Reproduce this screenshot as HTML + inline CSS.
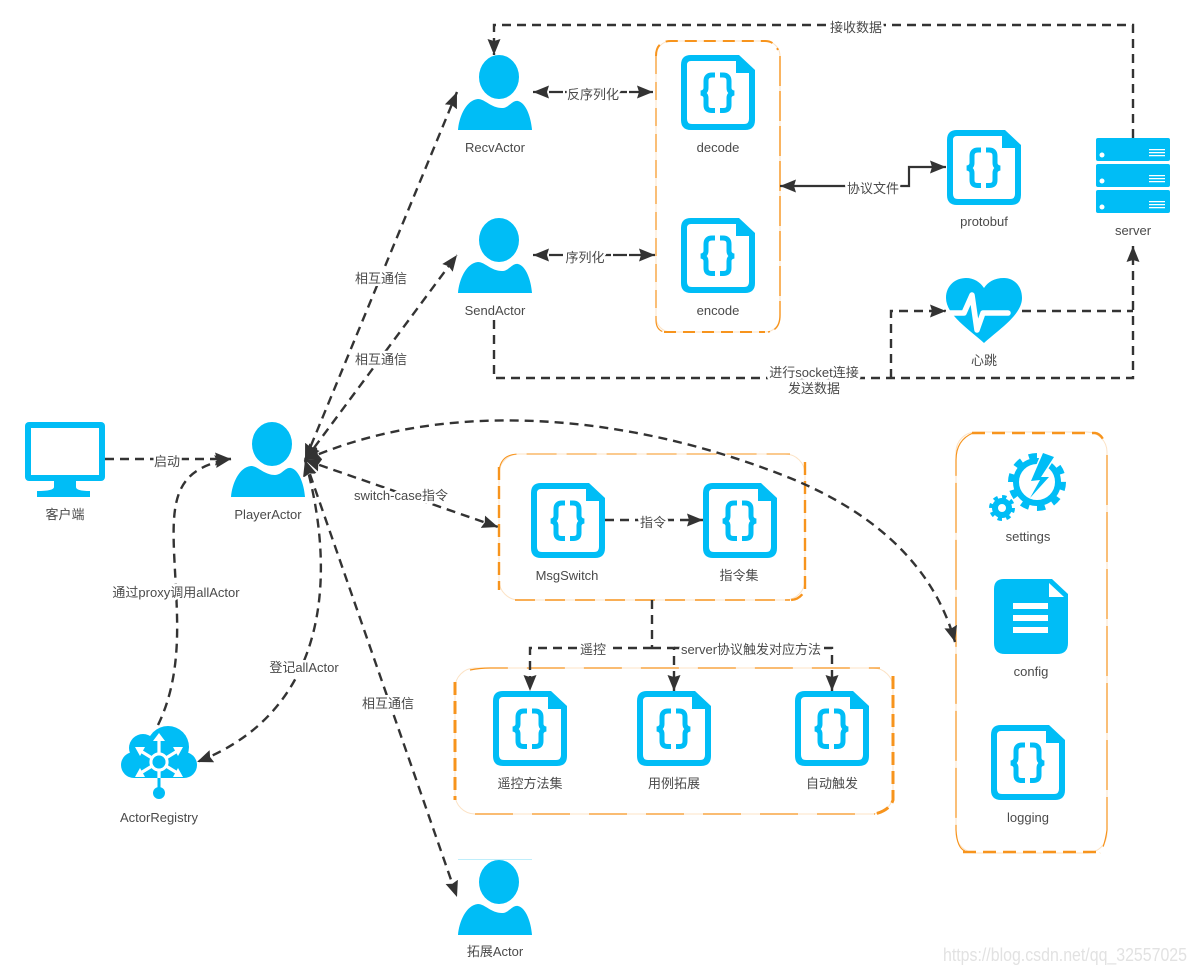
<!DOCTYPE html>
<html><head><meta charset="utf-8">
<style>
html,body{margin:0;padding:0;background:#fff}
svg{display:block}
text{font-family:"Liberation Sans","Noto Sans CJK SC",sans-serif;font-size:13px;fill:#4a4a4a;text-anchor:middle}
.l{paint-order:stroke;stroke:#fff;stroke-width:5px;stroke-linejoin:round}
.e{fill:none;stroke:#333;stroke-width:2.4;stroke-dasharray:9 6}
.s{fill:none;stroke:#333;stroke-width:2.2}
.b{fill:none;stroke:#fce3c6;stroke-width:1}
.o{fill:none;stroke:#f7941d;stroke-linecap:butt}
</style></head><body>
<svg width="1195" height="972" viewBox="0 0 1195 972" xmlns="http://www.w3.org/2000/svg">
<defs>
<marker id="a" markerUnits="userSpaceOnUse" markerWidth="18" markerHeight="14" refX="16" refY="6.5" orient="auto-start-reverse"><path d="M0 0L16 6.5L0 13L2 6.5Z" fill="#333"/></marker>
<symbol id="person" width="74" height="75" viewBox="0 0 74 75" overflow="visible"><ellipse cx="41" cy="22" rx="20" ry="22" fill="#00bdf6"/><path d="M0 75C1 62 8 45 20 44C27 44 33 53 44 53C51 53 54 45 60 46C68 48 73 62 74 75Z" fill="#00bdf6"/></symbol>
<symbol id="doc" width="74" height="75" viewBox="0 0 74 75" overflow="visible"><path d="M10 0H58L74 15V65Q74 75 64 75H10Q0 75 0 65V10Q0 0 10 0Z" fill="#00bdf6"/><path d="M10 6H55V18H68V64Q68 69 63 69H11Q6 69 6 64V10Q6 6 10 6Z" fill="#fff"/><g fill="none" stroke="#00bdf6" stroke-width="5"><path d="M34 20H31C27 20 25 22 25 26V33C25 36 23 37.5 20 38C23 38.5 25 40 25 43V50C25 54 27 55.5 31 55.5H34"/><path d="M39 20H42C46 20 48 22 48 26V33C48 36 50 37.5 53 38C50 38.5 48 40 48 43V50C48 54 46 55.5 42 55.5H39"/></g></symbol>
</defs>

<!-- groups -->
<rect class="b" x="656" y="41" width="124" height="291" rx="15"/>
<path class="o" stroke-width="2" stroke-dasharray="12 7" d="M656 56Q656 41 671 41H765Q774 41 778 50"/>
<path class="o" stroke-width="1.2" stroke-dasharray="18 8" d="M656 56V320Q656 330 664 332"/>
<path class="o" stroke-width="1.4" stroke-dasharray="30 5" d="M780 56V315Q780 330 768 332"/>
<path class="o" stroke-width="2" stroke-dasharray="12 7" d="M664 332H765"/>

<rect class="b" x="499" y="454" width="306" height="146" rx="20"/>
<path class="o" stroke-width="1" stroke-dasharray="30 10" d="M499 474Q499 454 519 454H790"/>
<path class="o" stroke-width="2.4" stroke-dasharray="13 6" d="M499 467V590"/>
<path class="o" stroke-width="2.4" stroke-dasharray="13 6" d="M805 462V590Q800 600 790 600"/>
<path class="o" stroke-width="1.6" stroke-dasharray="20 10" d="M515 600H790"/>

<rect class="b" x="455" y="668" width="438" height="146" rx="20"/>
<path class="o" stroke-width="1.3" stroke-dasharray="38 19" d="M470 670Q480 668 490 668H880"/>
<path class="o" stroke-width="3" stroke-dasharray="13 6" d="M455 682V800"/>
<path class="o" stroke-width="3" stroke-dasharray="13 6" d="M893 676V800Q890 810 875 814"/>
<path class="o" stroke-width="1.3" stroke-dasharray="38 19" d="M475 814H875"/>

<rect class="b" x="956" y="432" width="151" height="421" rx="20"/>
<path class="o" stroke-width="2.4" stroke-dasharray="13 7" d="M972 433H1095Q1102 434 1105 444"/>
<path class="o" stroke-width="1.2" stroke-dasharray="50 7" d="M973 433Q956 440 956 460V830Q957 848 965 851"/>
<path class="o" stroke-width="1.2" stroke-dasharray="50 7" d="M1107 455V830Q1105 845 1100 853"/>
<path class="o" stroke-width="2.4" stroke-dasharray="13 7" d="M963 852H1098"/>

<!-- connectors -->
<path class="e" marker-end="url(#a)" d="M1133 138V25H494V55"/>
<path class="s" stroke-dasharray="14 2" marker-start="url(#a)" marker-end="url(#a)" d="M533 92H653"/>
<path class="s" stroke-dasharray="14 2" marker-start="url(#a)" marker-end="url(#a)" d="M533 255H655"/>
<path class="s" marker-start="url(#a)" marker-end="url(#a)" d="M780 186H909V167H946"/>
<path class="e" marker-end="url(#a)" d="M494 320V378H1133V246"/>
<path class="e" marker-end="url(#a)" d="M891 378V311H946"/>
<path class="e" d="M1022 311H1133"/>
<path class="e" marker-start="url(#a)" marker-end="url(#a)" d="M305 460L457 92"/>
<path class="e" marker-start="url(#a)" marker-end="url(#a)" d="M305 460L457 255"/>
<path class="e" marker-end="url(#a)" d="M105 459H231"/>
<path class="e" marker-end="url(#a)" d="M158 725C180 680 178 630 176 590C172 510 165 470 231 459"/>
<path class="e" marker-start="url(#a)" marker-end="url(#a)" d="M305 460C336 570 332 710 197 762"/>
<path class="e" marker-start="url(#a)" marker-end="url(#a)" d="M305 460L457 897"/>
<path class="e" marker-start="url(#a)" marker-end="url(#a)" d="M305 460L498 527"/>
<path class="e" marker-end="url(#a)" d="M605 520H703"/>
<path class="e" d="M652 600V648"/>
<path class="e" marker-end="url(#a)" d="M652 648H530V691"/>
<path class="e" marker-end="url(#a)" d="M652 648H674V691"/>
<path class="e" marker-end="url(#a)" d="M674 648H832V691"/>
<path class="e" marker-start="url(#a)" marker-end="url(#a)" d="M305 460C440 400 620 410 790 478C880 515 935 570 955 642"/>

<!-- persons -->
<use href="#person" x="458" y="55"/>
<use href="#person" x="458" y="218"/>
<use href="#person" x="231" y="422"/>
<use href="#person" x="458" y="860"/>
<path d="M458 859.5H532" stroke="#bfeefb" stroke-width="1"/>

<!-- docs -->
<use href="#doc" x="681" y="55"/>
<use href="#doc" x="681" y="218"/>
<use href="#doc" x="947" y="130"/>
<use href="#doc" x="531" y="483"/>
<use href="#doc" x="703" y="483"/>
<use href="#doc" x="493" y="691"/>
<use href="#doc" x="637" y="691"/>
<use href="#doc" x="795" y="691"/>
<use href="#doc" x="991" y="725"/>

<!-- monitor -->
<rect x="25" y="422" width="80" height="59" rx="4" fill="#00bdf6"/>
<rect x="31" y="428" width="68" height="47" fill="#fff"/>
<path d="M54 480H76V487Q76 491 90 491V497H37V491Q54 491 54 487Z" fill="#00bdf6"/>

<!-- server -->
<g fill="#00bdf6"><rect x="1096" y="138" width="74" height="23" rx="2"/><rect x="1096" y="164" width="74" height="23" rx="2"/><rect x="1096" y="190" width="74" height="23" rx="2"/></g>
<g fill="#fff"><circle cx="1102" cy="155" r="2.5"/><circle cx="1102" cy="181" r="2.5"/><circle cx="1102" cy="207" r="2.5"/>
<path d="M1149 149h16v1.2h-16zM1149 152h16v1.2h-16zM1149 155h16v1.2h-16zM1149 175h16v1.2h-16zM1149 178h16v1.2h-16zM1149 181h16v1.2h-16zM1149 201h16v1.2h-16zM1149 204h16v1.2h-16zM1149 207h16v1.2h-16z"/></g>

<!-- heart -->
<path d="M984 343C970 330 946 315 946 298C946 285 956 278 966 278C974 278 980 282 984 288C988 282 994 278 1004 278C1014 278 1022 286 1022 298C1022 315 998 330 984 343Z" fill="#00bdf6"/>
<path d="M948 313H964L972 295L977 330L983 313H1008" fill="none" stroke="#fff" stroke-width="5.5" stroke-linecap="round" stroke-linejoin="round"/>

<!-- cloud -->
<g fill="#00bdf6"><circle cx="168" cy="747" r="21"/><circle cx="143" cy="748" r="14"/><circle cx="134" cy="765" r="13"/><circle cx="184" cy="765" r="13"/><rect x="134" y="750" width="50" height="28"/><circle cx="159" cy="793" r="6"/><rect x="157.5" y="778" width="3" height="12"/></g>
<g stroke="#fff" stroke-width="3.2" fill="none"><circle cx="159" cy="762" r="8"/><path d="M159 754V738M152 758L139 750M166 758L179 750M152 766L139 774M166 766L179 774M159 770V778"/></g>
<circle cx="159" cy="762" r="6.5" fill="#00bdf6"/>
<g fill="#fff"><path d="M159 733L165 741H153ZM135 747L145 747L140 756ZM183 747L173 747L178 756ZM135 777L145 777L140 768ZM183 777L173 777L178 768Z"/></g>

<!-- settings -->
<g fill="none" stroke="#00bdf6"><circle cx="1037" cy="482" r="21" stroke-width="6"/><circle cx="1037" cy="482" r="26" stroke-width="6" stroke-dasharray="8.2 8.1"/>
<circle cx="1002" cy="508" r="7" stroke-width="6"/><circle cx="1002" cy="508" r="11" stroke-width="4" stroke-dasharray="4.3 4.3"/></g>
<path d="M1043 453L1031 481L1040 480L1030 498L1049 477L1041 477L1054 457Z" fill="#00bdf6" stroke="#fff" stroke-width="3" paint-order="stroke"/>

<!-- config -->
<path d="M1004 579H1052L1068 594V643Q1068 654 1057 654H1005Q994 654 994 643V589Q994 579 1004 579Z" fill="#00bdf6"/>
<path d="M1049 583V597H1064Z" fill="#fff"/>
<path d="M1013 603H1048V609H1013ZM1013 615H1048V621H1013ZM1013 627H1048V633H1013Z" fill="#fff"/>

<!-- node labels -->
<text x="495" y="152">RecvActor</text>
<text x="495" y="315">SendActor</text>
<text x="718" y="152">decode</text>
<text x="718" y="315">encode</text>
<text x="984" y="226">protobuf</text>
<text x="1133" y="235">server</text>
<text x="984" y="365">心跳</text>
<text x="65" y="519">客户端</text>
<text x="268" y="519">PlayerActor</text>
<text x="159" y="822">ActorRegistry</text>
<text x="567" y="580">MsgSwitch</text>
<text x="739" y="580">指令集</text>
<text x="530" y="788">遥控方法集</text>
<text x="674" y="788">用例拓展</text>
<text x="832" y="788">自动触发</text>
<text x="1028" y="541">settings</text>
<text x="1031" y="676">config</text>
<text x="1028" y="822">logging</text>
<text x="495" y="956">拓展Actor</text>

<!-- edge labels -->
<text class="l" x="856" y="32">接收数据</text>
<text class="l" x="593" y="99">反序列化</text>
<text class="l" x="585" y="262">序列化</text>
<text class="l" x="873" y="193">协议文件</text>
<text class="l" x="814" y="377">进行socket连接</text>
<text class="l" x="814" y="393">发送数据</text>
<text class="l" x="381" y="283">相互通信</text>
<text class="l" x="381" y="364">相互通信</text>
<text class="l" x="167" y="466">启动</text>
<text class="l" x="176" y="597">通过proxy调用allActor</text>
<text class="l" x="304" y="672">登记allActor</text>
<text class="l" x="388" y="708">相互通信</text>
<text class="l" x="401" y="500">switch-case指令</text>
<text class="l" x="653" y="527">指令</text>
<text class="l" x="593" y="654">遥控</text>
<text class="l" x="751" y="654">server协议触发对应方法</text>

<text x="1065" y="961" style="font-size:18px;fill:#e2e2e2" textLength="244" lengthAdjust="spacingAndGlyphs">https://blog.csdn.net/qq_32557025</text>
</svg>
</body></html>
